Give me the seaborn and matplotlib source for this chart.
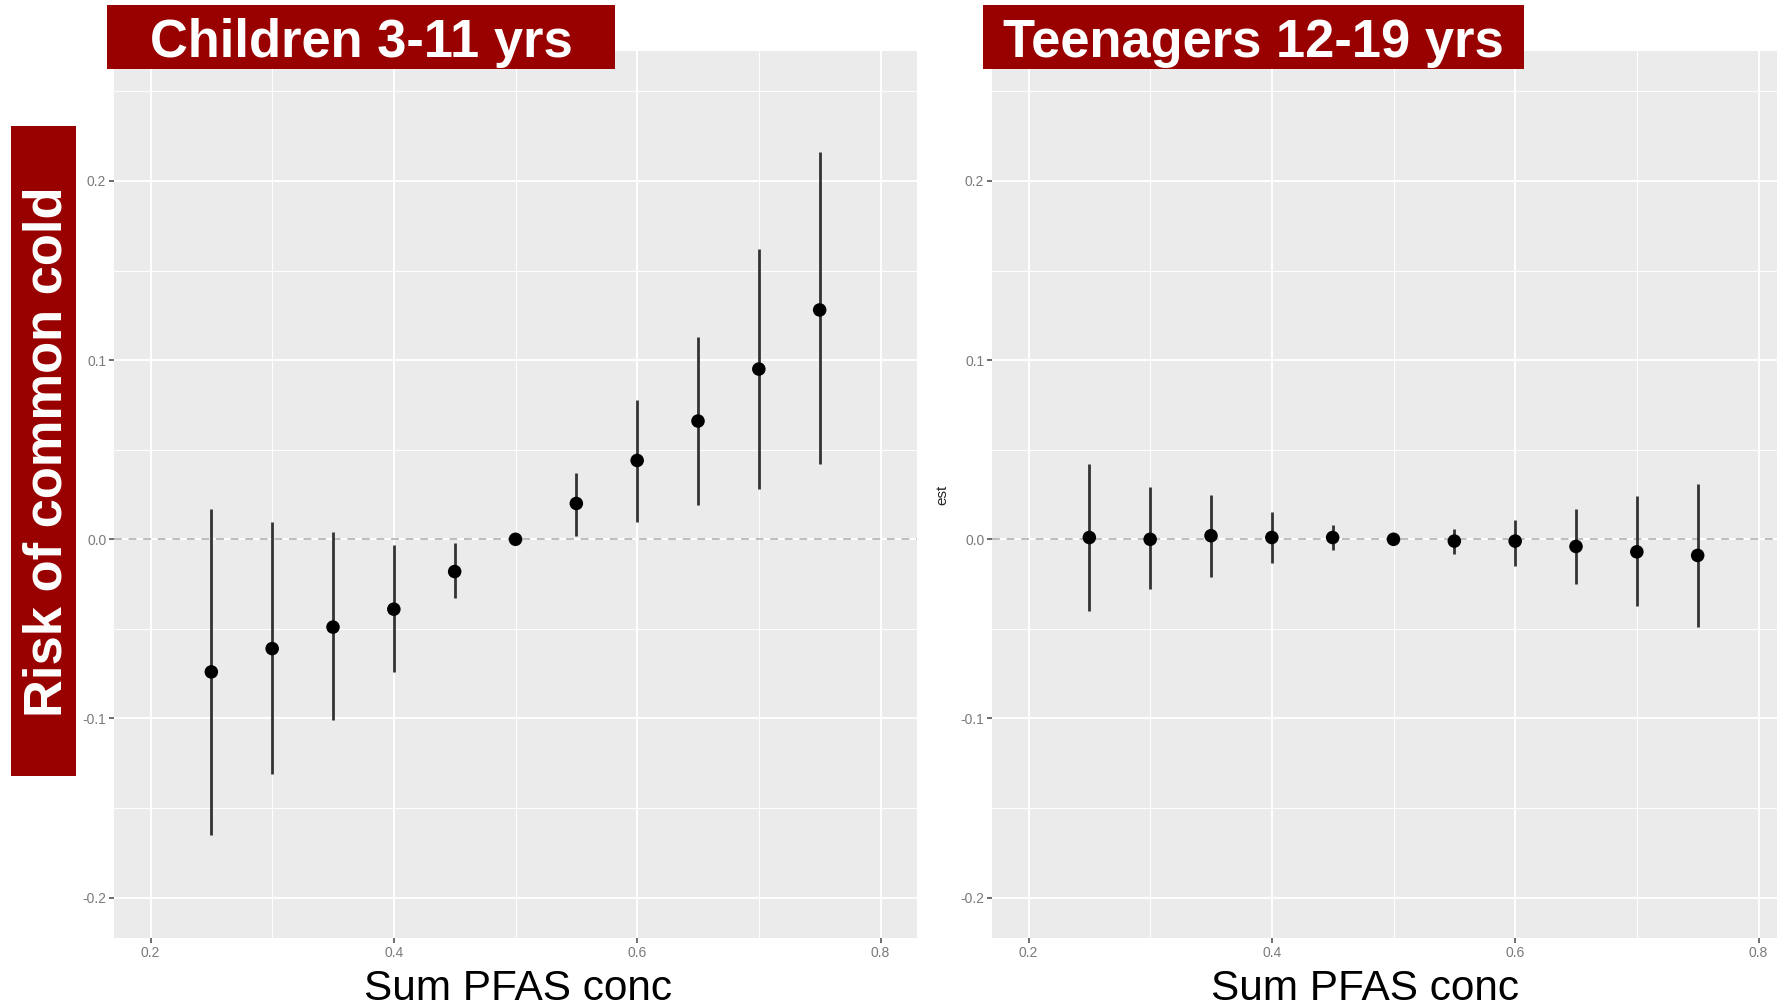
import matplotlib
matplotlib.use("Agg")
import matplotlib.pyplot as plt
import seaborn as sns
import pandas as pd
from matplotlib.patches import Rectangle

# ---------------- data ----------------
conc = [0.25, 0.30, 0.35, 0.40, 0.45, 0.50, 0.55, 0.60, 0.65, 0.70, 0.75]

child_est = [-0.074, -0.061, -0.049, -0.039, -0.018, 0.000, 0.020, 0.044, 0.066, 0.095, 0.128]
child_lo = [-0.165, -0.131, -0.101, -0.074, -0.033, 0.000, 0.002, 0.0095, 0.019, 0.028, 0.042]
child_hi = [0.017, 0.0095, 0.004, -0.003, -0.002, 0.000, 0.037, 0.078, 0.113, 0.162, 0.216]

teen_est = [0.001, 0.000, 0.002, 0.001, 0.001, 0.000, -0.001, -0.001, -0.004, -0.007, -0.009]
teen_lo = [-0.040, -0.028, -0.021, -0.013, -0.006, 0.000, -0.008, -0.015, -0.025, -0.037, -0.049]
teen_hi = [0.042, 0.029, 0.025, 0.015, 0.008, 0.000, 0.006, 0.011, 0.017, 0.024, 0.031]

x_ticks = [0.2, 0.4, 0.6, 0.8]
x_tick_labels = ["0.2", "0.4", "0.6", "0.8"]
x_minor = [0.3, 0.5, 0.7]
y_ticks = [-0.2, -0.1, 0.0, 0.1, 0.2]
y_tick_labels = ["-0.2", "-0.1", "0.0", "0.1", "0.2"]
y_minor = [-0.15, -0.05, 0.05, 0.15, 0.25]

panel_titles = ["Children 3-11 yrs", "Teenagers 12-19 yrs"]
y_title = "Risk of common cold"
x_title = "Sum PFAS conc"
axis_name = "est"

# ---------------- style ----------------
sns.set_theme(style="darkgrid", rc={
    "axes.facecolor": "#EBEBEB",
    "grid.color": "white",
    "axes.edgecolor": "none",
    "axes.unicode_minus": False,
})
plt.rcParams["font.family"] = ["Liberation Sans", "DejaVu Sans"]

W, H = 1777, 1006
fig = plt.figure(figsize=(W / 100, H / 100), dpi=100)
fig.patch.set_facecolor("white")

RED = "#990000"

def fx(px):
    return px / W

def fy(py):
    return 1 - py / H

panels = [
    (114, child_est, child_lo, child_hi, ""),
    (992, teen_est, teen_lo, teen_hi, axis_name),
]
ax_w = 803 / W
ax_bottom = fy(938)
ax_h = (938 - 51) / H

for left_px, est, lo, hi, ylab in panels:
    ax = fig.add_axes([fx(left_px), ax_bottom, ax_w, ax_h])
    df = pd.DataFrame({"conc": conc, "est": est, "lo": lo, "hi": hi})
    ax.set_xlim(0.17, 0.83)
    ax.set_ylim(-0.2225, 0.2725)
    ax.set_xticks(x_ticks)
    ax.set_xticklabels(x_tick_labels)
    ax.set_yticks(y_ticks)
    ax.set_yticklabels(y_tick_labels)
    ax.set_xticks(x_minor, minor=True)
    ax.set_yticks(y_minor, minor=True)
    ax.grid(which="major", color="white", lw=1.4)
    ax.grid(which="minor", color="white", lw=0.7)
    ax.tick_params(which="major", length=3.5, width=1.2, color="#555555",
                   labelsize=10, labelcolor="#7A7A7A", pad=2,
                   bottom=True, left=True)
    ax.tick_params(which="minor", length=0)
    ax.axhline(0, color="#BDBDBD", lw=1.4, ls=(0, (4, 3.5)), zorder=1)
    ax.vlines(df["conc"], df["lo"], df["hi"], color="#333333", lw=2.0, zorder=2)
    sns.scatterplot(data=df, x="conc", y="est", ax=ax, color="black",
                    s=95, edgecolor="none", zorder=3, legend=False)
    ax.set_xlabel("")
    ax.set_ylabel(ylab, fontsize=11, color="#222222", labelpad=8)

# ---------------- overlaid slide labels ----------------
def red_box(x0, y0, x1, y1):
    fig.patches.append(Rectangle((fx(x0), fy(y1)), fx(x1) - fx(x0), fy(y0) - fy(y1),
                                 transform=fig.transFigure, facecolor=RED,
                                 edgecolor="none", zorder=5))

red_box(107, 5, 615, 69)
fig.text(fx(361), fy(43), panel_titles[0], color="white", fontsize=37.8,
         fontweight="bold", ha="center", va="center", zorder=6)

red_box(983, 5, 1524, 69)
fig.text(fx(1253), fy(43), panel_titles[1], color="white", fontsize=37.8,
         fontweight="bold", ha="center", va="center", zorder=6)

red_box(11, 126, 76, 776)
fig.text(fx(48), fy(452), y_title, color="white", fontsize=37.8,
         fontweight="bold", ha="center", va="center", rotation=90, zorder=6)

fig.text(fx(518), fy(1000), x_title, color="black", fontsize=30.5,
         ha="center", va="baseline")
fig.text(fx(1365), fy(1000), x_title, color="black", fontsize=30.5,
         ha="center", va="baseline")

fig.savefig("out.png", dpi=100, facecolor="white")
